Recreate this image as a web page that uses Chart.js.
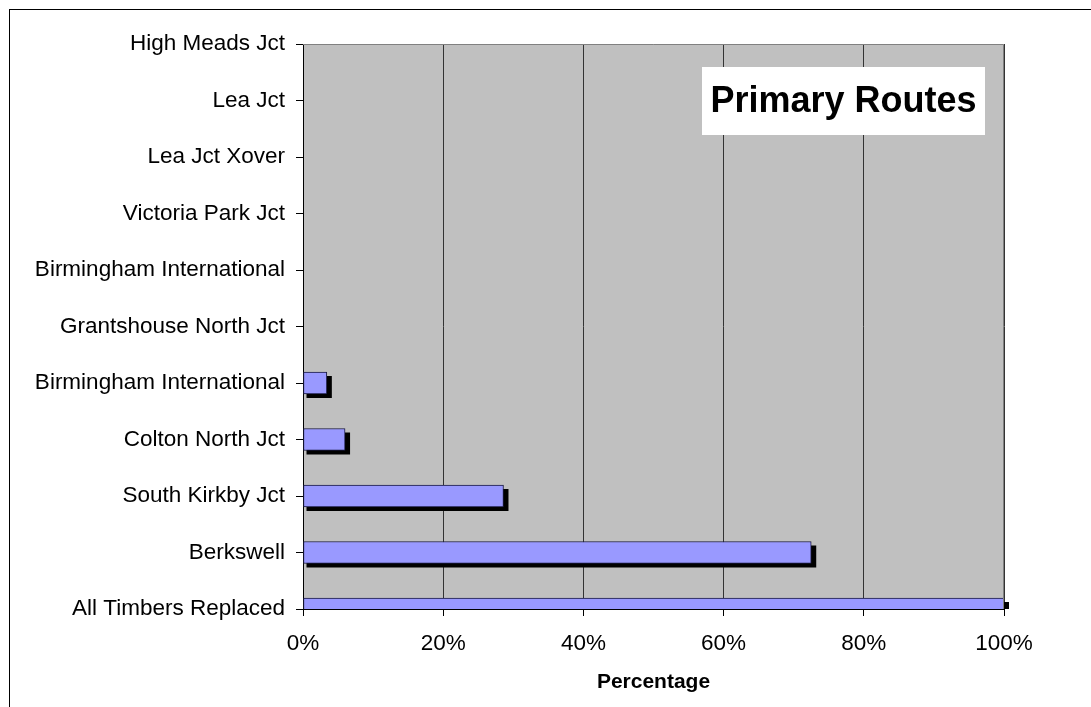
<!DOCTYPE html>
<html>
<head>
<meta charset="utf-8">
<script src="https://cdn.jsdelivr.net/npm/chart.js@4.4.0/dist/chart.umd.min.js"></script>
<style>
  html, body { margin: 0; padding: 0; background: #fff; overflow: hidden; }
  .frame { position: absolute; left: 9px; top: 9px; width: 1200px; height: 800px; border: 1px solid #000; }
  .chart_box { position: absolute; left: 0; top: 0; width: 1091px; height: 707px; }
</style>
</head>
<body>
<div class="frame"></div>
<div class="chart_box"><canvas id="routes_chart"></canvas></div>
<script>
// top to bottom, as in the picture
const routeNames = [
  "High Meads Jct",
  "Lea Jct",
  "Lea Jct Xover",
  "Victoria Park Jct",
  "Birmingham International",
  "Grantshouse North Jct",
  "Birmingham International",
  "Colton North Jct",
  "South Kirkby Jct",
  "Berkswell",
  "All Timbers Replaced",
];
const percentDone = [0, 0, 0, 0, 0, 0, 3.4, 6, 28.6, 72.5, 100];
const percentTicks = [0, 20, 40, 60, 80, 100];
const boxTitle = "Primary Routes";
const axisTitle = "Percentage";

const font = "'Liberation Sans', Arial, sans-serif";

const plotBackground = {
  id: "plotBackground",
  beforeDraw(chart) {
    const { ctx, chartArea: a } = chart;
    ctx.save();
    ctx.fillStyle = "#c0c0c0";
    ctx.fillRect(a.left, a.top, a.right - a.left, a.bottom - a.top);
    ctx.restore();
  },
  afterDraw(chart) {
    const { ctx, chartArea: a } = chart;
    ctx.save();
    // grey frame on top and right of plot
    ctx.strokeStyle = "#808080";
    ctx.lineWidth = 1;
    ctx.beginPath();
    ctx.moveTo(a.left, a.top + 0.5);
    ctx.lineTo(a.right - 0.5, a.top + 0.5);
    ctx.lineTo(a.right - 0.5, a.bottom);
    ctx.stroke();

    // "Primary Routes" label box
    const bx = a.right - 302, by = a.top + 23, bw = 283, bh = 68;
    ctx.fillStyle = "#fff";
    ctx.fillRect(bx, by, bw, bh);
    ctx.fillStyle = "#000";
    ctx.font = "bold 36px " + font;
    ctx.textAlign = "center";
    ctx.textBaseline = "middle";
    ctx.fillText(boxTitle, bx + bw / 2, by + bh / 2 + 1);
    ctx.restore();
  },
};

const barShadow = {
  id: "barShadow",
  beforeDatasetsDraw(chart) {
    const { ctx, chartArea: a } = chart;
    const meta = chart.getDatasetMeta(0);
    ctx.save();
    ctx.beginPath();
    ctx.rect(a.left, a.top, a.right + 10 - a.left, a.bottom - a.top);
    ctx.clip();
    ctx.fillStyle = "#000";
    meta.data.forEach((bar) => {
      const { x, y, base, height } = bar.getProps(["x", "y", "base", "height"], true);
      if (x - base < 1) return;
      ctx.fillRect(base + 3, y - height / 2 + 4, x - base + 2, height);
    });
    ctx.restore();
  },
};

const chartCanvas = document.getElementById("routes_chart");

new Chart(chartCanvas, {
  type: "bar",
  data: {
    labels: routeNames,
    datasets: [
      {
        data: percentDone,
        backgroundColor: "#9999ff",
        borderColor: "#1a1a40",
        borderWidth: 1,
        borderSkipped: false,
        barThickness: 22,
      },
    ],
  },
  options: {
    indexAxis: "y",
    responsive: true,
    maintainAspectRatio: false,
    animation: false,
    layout: { padding: { top: 44, right: 87, bottom: 0, left: 0 } },
    plugins: {
      legend: { display: false },
      tooltip: { enabled: false },
    },
    scales: {
      x: {
        min: 0,
        max: 100,
        afterBuildTicks: (scale) => {
          scale.ticks = percentTicks.map((v) => ({ value: v }));
        },
        afterFit: (scale) => {
          scale.height = 98;
        },
        ticks: {
          callback: (v) => v + "%",
          color: "#000",
          font: { family: font, size: 22.5 },
          padding: 14,
          maxRotation: 0,
        },
        grid: { color: "#333", lineWidth: 1, tickLength: 7, tickColor: "#000" },
        border: { color: "#000" },
        title: {
          display: true,
          text: axisTitle,
          color: "#000",
          font: { family: font, size: 21, weight: "bold" },
          padding: { top: 0, bottom: 12 },
        },
      },
      y: {
        offset: false,
        afterFit: (scale) => {
          scale.width = 303;
        },
        ticks: {
          color: "#000",
          font: { family: font, size: 22.5 },
          padding: 11,
          autoSkip: false,
        },
        grid: { offset: false, drawOnChartArea: false, tickLength: 7, color: "#000" },
        border: { color: "#000" },
      },
    },
  },
  plugins: [plotBackground, barShadow],
});
</script>
</body>
</html>
